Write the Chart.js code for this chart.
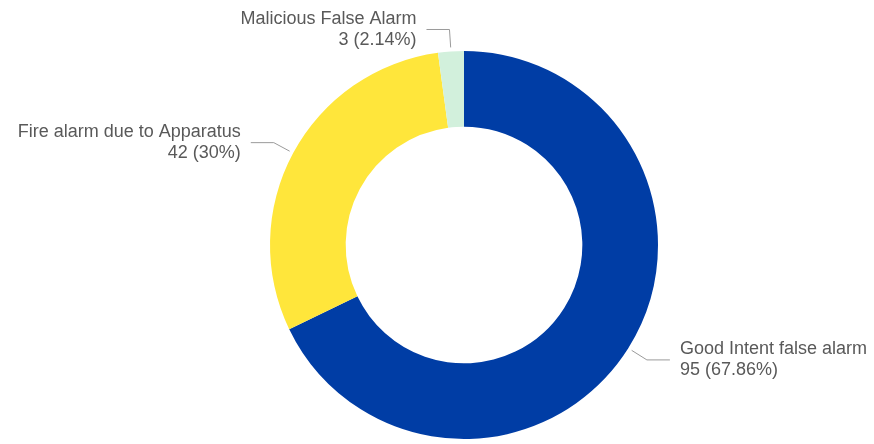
<!DOCTYPE html>
<html>
<head>
<meta charset="utf-8">
<script src="https://cdn.jsdelivr.net/npm/chart.js@4"></script>
<style>
  html, body { margin: 0; padding: 0; background: #fff; }
  #wrap { width: 874px; height: 444px; }
</style>
</head>
<body>
<div id="wrap"><canvas id="donut" width="874" height="444"></canvas></div>
<script>
const labels = ['Good Intent false alarm', 'Fire alarm due to Apparatus', 'Malicious False Alarm'];
const counts = [95, 42, 3];
const colors = ['#003DA5', '#FFE63B', '#D2F0DC'];

const total = counts.reduce((s, v) => s + v, 0);

// leader lines + two-line labels outside each slice
const outsideLabels = {
    id: 'outsideLabels',
    afterDraw(chart) {
        const ctx = chart.ctx;
        const meta = chart.getDatasetMeta(0);
        ctx.save();
        ctx.font = '18px "Liberation Sans", Arial, sans-serif';
        ctx.textBaseline = 'middle';
        meta.data.forEach((arc, i) => {
            const p = arc.getProps(['x', 'y', 'startAngle', 'endAngle', 'outerRadius'], true);
            const mid = (p.startAngle + p.endAngle) / 2;
            const cos = Math.cos(mid), sin = Math.sin(mid);
            const x1 = p.x + cos * (p.outerRadius + 4), y1 = p.y + sin * (p.outerRadius + 4);
            const x2 = p.x + cos * (p.outerRadius + 22), y2 = p.y + sin * (p.outerRadius + 22);
            const dir = cos >= 0 ? 1 : -1;
            const x3 = x2 + dir * 23;

            ctx.strokeStyle = '#9a9a9a';
            ctx.lineWidth = 1;
            ctx.beginPath();
            ctx.moveTo(x1, y1);
            ctx.lineTo(x2, y2);
            ctx.lineTo(x3, y2);
            ctx.stroke();

            const pct = +(counts[i] / total * 100).toFixed(2);
            ctx.fillStyle = '#595959';
            ctx.textAlign = dir > 0 ? 'left' : 'right';
            const tx = x3 + dir * 10;
            ctx.fillText(labels[i], tx, y2 - 10.5);
            ctx.fillText(counts[i] + ' (' + pct + '%)', tx, y2 + 10.5);
        });
        ctx.restore();
    }
};

new Chart(document.getElementById('donut'), {
    type: 'doughnut',
    data: {
        labels: labels,
        datasets: [{ data: counts, backgroundColor: colors, borderWidth: 0 }]
    },
    options: {
        responsive: false,
        animation: false,
        cutout: '61%',
        layout: { padding: { top: 51, bottom: 5, left: 200, right: 146 } },
        plugins: { legend: { display: false }, tooltip: { enabled: false } }
    },
    plugins: [outsideLabels]
});
</script>
</body>
</html>
